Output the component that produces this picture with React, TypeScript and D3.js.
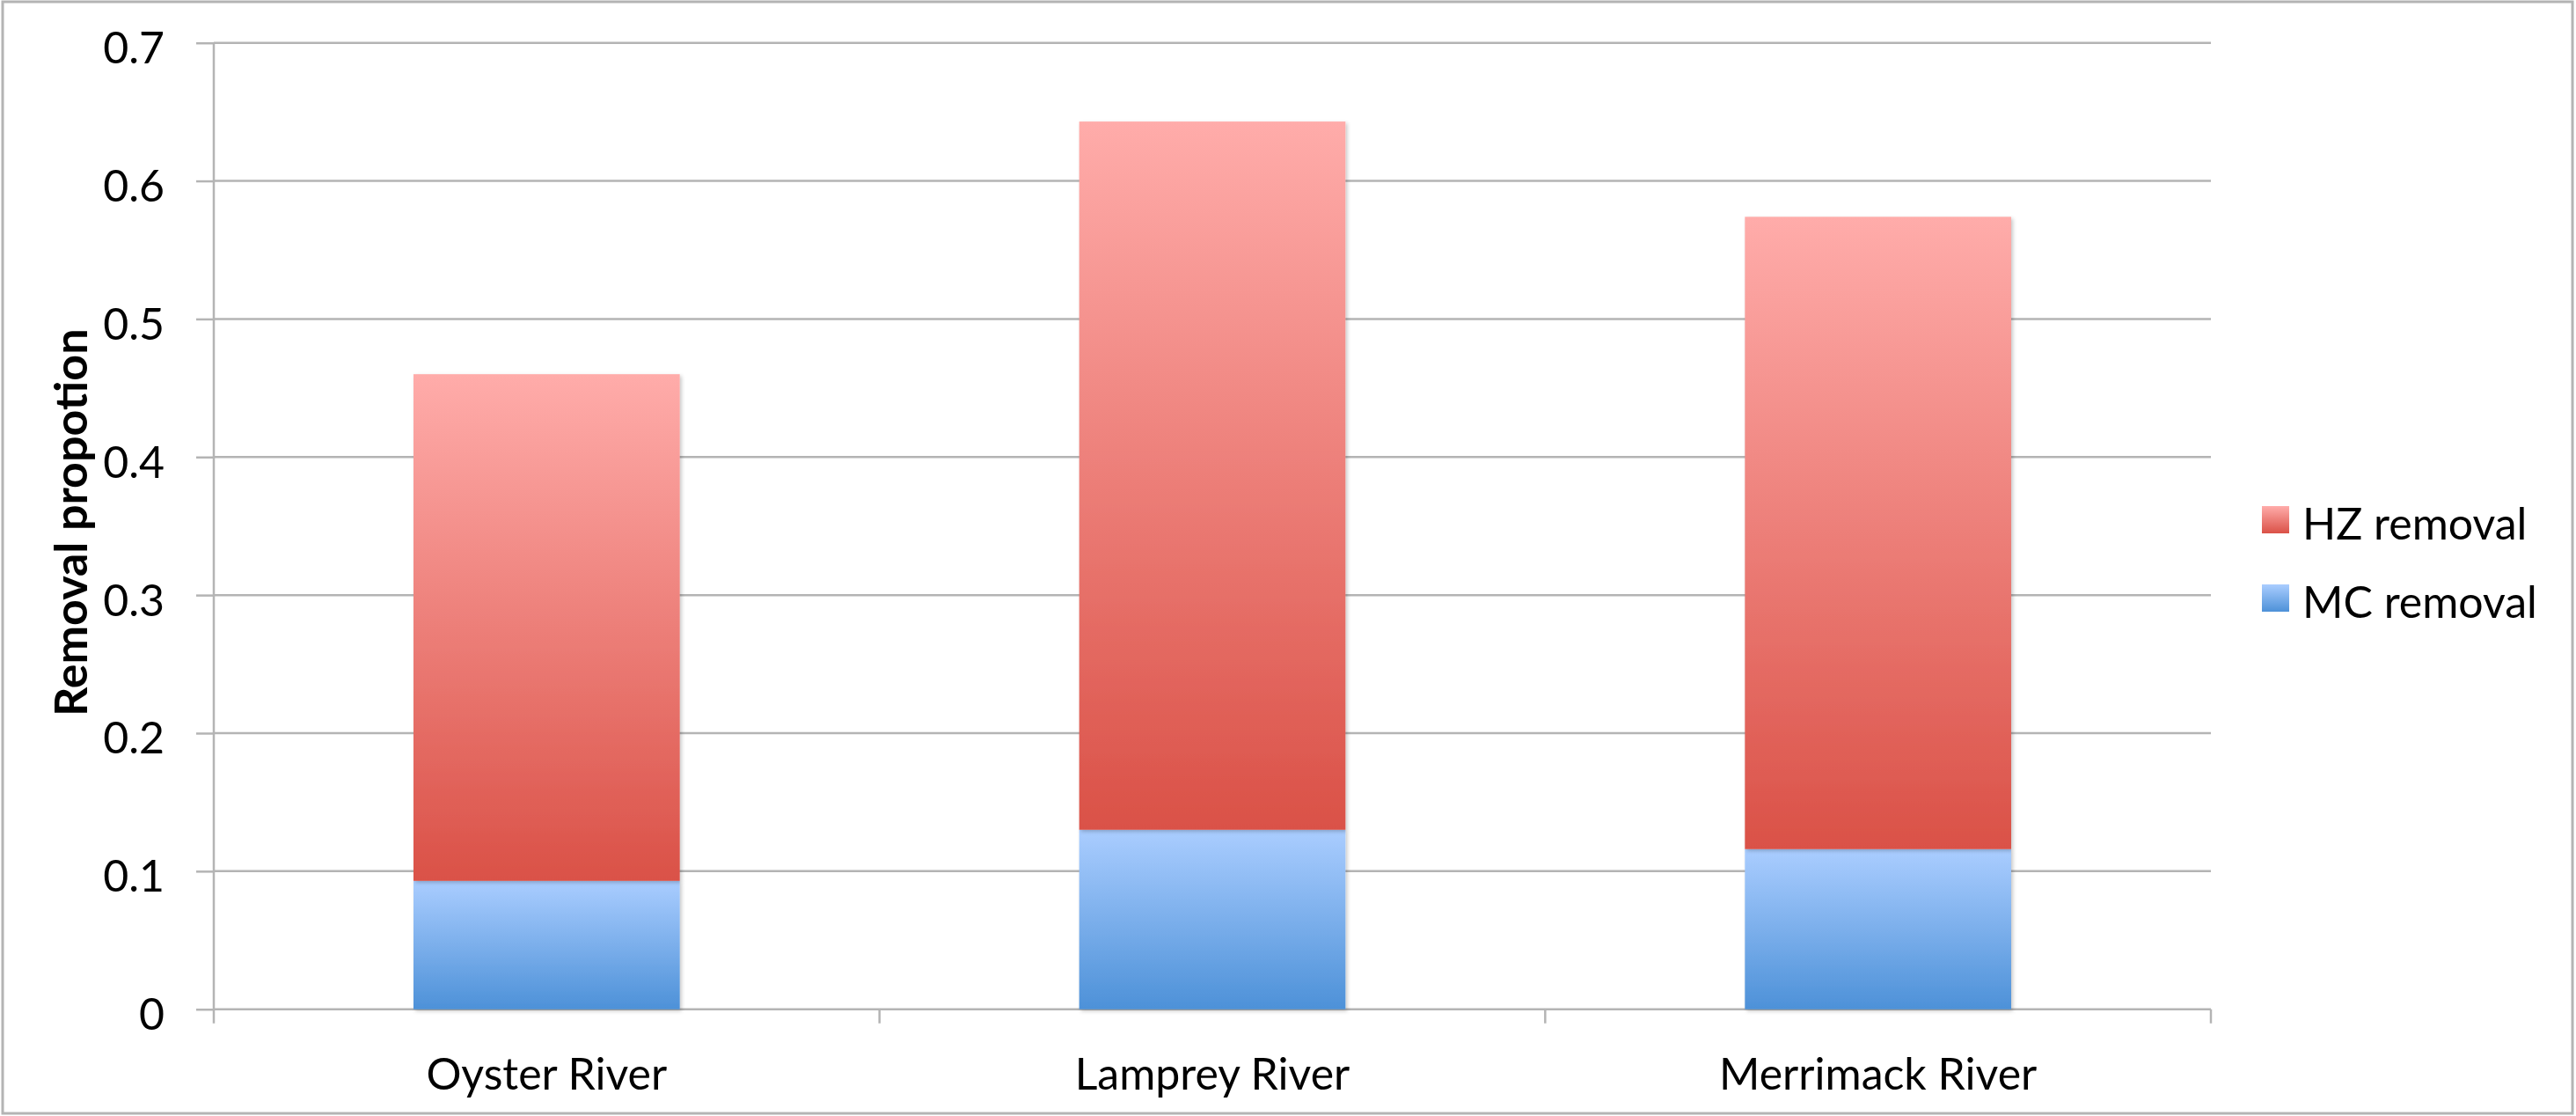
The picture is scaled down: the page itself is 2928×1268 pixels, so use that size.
import React, { useEffect, useRef } from 'react';
import * as d3 from 'd3';

// chart data
const categories = ['Oyster River', 'Lamprey River', 'Merrimack River'];
const mcRemoval = [0.093, 0.13, 0.116];
const hzRemoval = [0.367, 0.513, 0.458];
const seriesNames = ['MC removal', 'HZ removal'];
const yTicks = [0, 0.1, 0.2, 0.3, 0.4, 0.5, 0.6, 0.7];
const yTickLabels = ['0', '0.1', '0.2', '0.3', '0.4', '0.5', '0.6', '0.7'];
const yTitle = 'Removal propotion';

const W = 2928;
const H = 1268;
const FONT = 'Lato, "Noto Sans", sans-serif';
const GRID = '#b4b4b4';

const App = () => {
  const svgRef = useRef<SVGSVGElement>(null);

  useEffect(() => {
    const svg = d3.select(svgRef.current);
    svg.selectAll('*').remove();

    const left = 243;
    const right = 2513;
    const top = 48.7;
    const bottom = 1146.7;

    const rows = categories.map((c, i) => ({ cat: c, mc: mcRemoval[i], hz: hzRemoval[i] }));
    const stacked = d3.stack<any>().keys(['mc', 'hz'])(rows);

    const x = d3.scaleBand()
      .domain(categories)
      .range([left, right])
      .paddingInner(0.6)
      .paddingOuter(0.3);

    const y = d3.scaleLinear()
      .domain([0, 0.7])
      .range([bottom, top]);

    const defs = svg.append('defs');
    const grads = [
      { id: 'gMC', top: '#aacdff', bot: '#4d91d8' },
      { id: 'gHZ', top: '#ffacaa', bot: '#da5147' },
    ];
    grads.forEach(g => {
      const lg = defs.append('linearGradient')
        .attr('id', g.id).attr('x1', 0).attr('y1', 0).attr('x2', 0).attr('y2', 1);
      lg.append('stop').attr('offset', '0%').attr('stop-color', g.top);
      lg.append('stop').attr('offset', '100%').attr('stop-color', g.bot);
    });
    const shadow = defs.append('filter').attr('id', 'shadow')
      .attr('x', '-5%').attr('y', '-5%').attr('width', '110%').attr('height', '110%');
    shadow.append('feDropShadow')
      .attr('dx', 2).attr('dy', 2).attr('stdDeviation', 2)
      .attr('flood-color', '#000').attr('flood-opacity', 0.22);

    // white background + outer frame
    svg.append('rect')
      .attr('x', 3).attr('y', 2).attr('width', 2921).attr('height', 1263)
      .attr('fill', '#fff').attr('stroke', GRID).attr('stroke-width', 3);

    // gridlines
    svg.append('g')
      .selectAll('line')
      .data(yTicks)
      .enter()
      .append('line')
      .attr('x1', left).attr('x2', right)
      .attr('y1', d => y(d)).attr('y2', d => y(d))
      .attr('stroke', GRID).attr('stroke-width', 2.5);

    // y axis
    const yAxis = d3.axisLeft(y)
      .tickValues(yTicks)
      .tickFormat((d, i) => yTickLabels[i])
      .tickSize(20)
      .tickSizeOuter(0)
      .tickPadding(36);

    const yg = svg.append('g')
      .attr('transform', `translate(${left}, 0)`)
      .call(yAxis);
    yg.select('.domain').remove();
    yg.selectAll('line').attr('stroke', GRID).attr('stroke-width', 2.5);
    yg.selectAll('text')
      .attr('dy', '0.46em')
      .style('font-family', FONT)
      .style('font-size', '50px')
      .style('fill', '#000');

    svg.append('line')
      .attr('x1', left).attr('x2', left)
      .attr('y1', top).attr('y2', bottom + 16)
      .attr('stroke', GRID).attr('stroke-width', 2.5);

    // category separators
    const step = x.step();
    const seps = d3.range(categories.length).map(i => left + (i + 1) * step);
    svg.append('g')
      .selectAll('line')
      .data(seps)
      .enter()
      .append('line')
      .attr('x1', d => d).attr('x2', d => d)
      .attr('y1', bottom).attr('y2', bottom + 16)
      .attr('stroke', GRID).attr('stroke-width', 2.5);

    // bars
    const fills = ['url(#gMC)', 'url(#gHZ)'];
    stacked.forEach((layer, li) => {
      svg.append('g')
        .selectAll('rect')
        .data(layer)
        .enter()
        .append('rect')
        .attr('x', d => x(d.data.cat))
        .attr('y', d => y(d[1]))
        .attr('width', x.bandwidth())
        .attr('height', d => y(d[0]) - y(d[1]))
        .attr('fill', fills[li])
        .attr('filter', 'url(#shadow)');
    });

    // x labels
    svg.append('g')
      .selectAll('text')
      .data(categories)
      .enter()
      .append('text')
      .attr('x', d => x(d) + x.bandwidth() / 2)
      .attr('y', 1238)
      .attr('text-anchor', 'middle')
      .style('font-family', FONT)
      .style('font-size', '50px')
      .text(d => d);

    // y title
    svg.append('text')
      .attr('transform', `translate(99, ${(top + bottom) / 2 - 4}) rotate(-90)`)
      .attr('text-anchor', 'middle')
      .style('font-family', FONT)
      .style('font-size', '52px')
      .style('font-weight', 700)
      .text(yTitle);

    // legend (HZ first, then MC)
    const legendItems = [
      { name: seriesNames[1], fill: 'url(#gHZ)' },
      { name: seriesNames[0], fill: 'url(#gMC)' },
    ];
    const lg = svg.append('g');
    legendItems.forEach((it, i) => {
      const baseY = 613 + i * 89;
      lg.append('rect')
        .attr('x', 2571).attr('y', baseY - 38)
        .attr('width', 31).attr('height', 31)
        .attr('fill', it.fill);
      lg.append('text')
        .attr('x', 2617).attr('y', baseY)
        .style('font-family', FONT)
        .style('font-size', '50px')
        .text(it.name);
    });
  }, []);

  return (
    <svg
      ref={svgRef}
      width={W}
      height={H}
      style={{ position: 'absolute', left: 0, top: 0, display: 'block' }}
    />
  );
};

export default App;
